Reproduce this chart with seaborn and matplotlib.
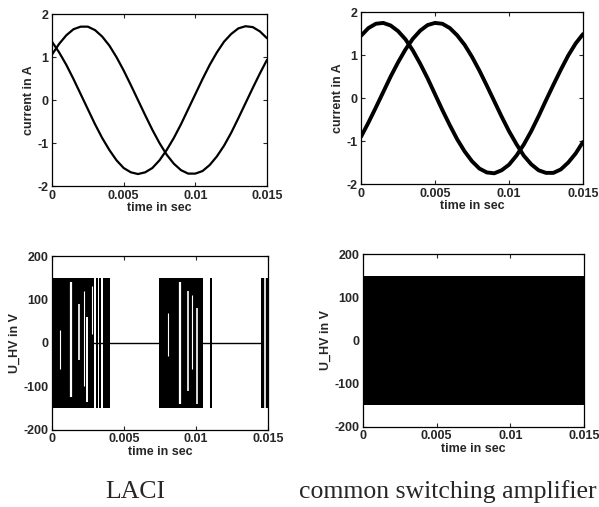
import numpy as np
import matplotlib
matplotlib.use("Agg")
import matplotlib.pyplot as plt
import seaborn as sns

# sampling instants of the current traces (ms)
t_ms = [0.0, 0.5, 1.0, 1.5, 2.0, 2.5, 3.0, 3.5, 4.0, 4.5, 5.0, 5.5, 6.0, 6.5, 7.0, 7.5,
        8.0, 8.5, 9.0, 9.5, 10.0, 10.5, 11.0, 11.5, 12.0, 12.5, 13.0, 13.5, 14.0, 14.5, 15.0]

# LACI phase currents (A)
laci_i1 = [1.06, 1.31, 1.51, 1.65, 1.71, 1.71, 1.63, 1.48, 1.27, 1.00, 0.69, 0.35, 0.00,
           -0.35, -0.69, -1.00, -1.27, -1.48, -1.63, -1.71, -1.71, -1.65, -1.51, -1.31,
           -1.06, -0.76, -0.42, -0.07, 0.28, 0.62, 0.94]
laci_i2 = [1.36, 1.11, 0.82, 0.49, 0.14, -0.21, -0.56, -0.88, -1.16, -1.40, -1.58, -1.68,
           -1.72, -1.68, -1.58, -1.40, -1.16, -0.88, -0.56, -0.21, 0.14, 0.49, 0.82, 1.11,
           1.36, 1.54, 1.67, 1.72, 1.70, 1.60, 1.44]

# switching amplifier phase currents (A)
amp_i1 = [1.45, 1.63, 1.73, 1.75, 1.69, 1.56, 1.37, 1.11, 0.80, 0.46, 0.09, -0.28, -0.63,
          -0.96, -1.24, -1.47, -1.64, -1.73, -1.75, -1.68, -1.55, -1.34, -1.08, -0.77,
          -0.42, -0.05, 0.31, 0.66, 0.99, 1.27, 1.49]
amp_i2 = [-0.90, -0.57, -0.22, 0.14, 0.50, 0.83, 1.13, 1.38, 1.57, 1.70, 1.75, 1.73, 1.63,
          1.46, 1.24, 0.96, 0.64, 0.29, -0.07, -0.43, -0.77, -1.07, -1.34, -1.54, -1.68,
          -1.74, -1.74, -1.66, -1.50, -1.29, -1.02]

# dc link voltage (V)
u_dc = 150

# LACI: intervals where the bridge is switching (ms)
laci_burst_start = [0.0, 3.03, 3.29, 3.52, 7.43, 10.97, 14.52]
laci_burst_end = [2.90, 3.17, 3.38, 4.03, 10.50, 11.10, 15.0]

# gaps inside the switching bursts (ms, V from, V to)
laci_gap_t = [0.55, 1.35, 1.90, 2.20, 2.45, 2.75, 8.05, 8.87, 9.45, 9.70, 10.05, 14.80]
laci_gap_lo = [-60, -125, -40, -100, -135, 20, -30, -140, -110, -60, -140, -150]
laci_gap_hi = [30, 140, 90, 120, 60, 130, 70, 140, 120, 110, 80, 150]
laci_gap_w = [0.8, 1.6, 1.2, 0.8, 1.4, 0.8, 0.8, 1.6, 1.2, 0.8, 1.2, 1.2]

# common amplifier switches over the whole window (ms)
amp_burst_start = [0.0]
amp_burst_end = [15.0]

sns.set_style("ticks")
plt.rcParams['font.family'] = ['Liberation Sans', 'DejaVu Sans']
plt.rcParams['font.weight'] = 'bold'
plt.rcParams['axes.labelweight'] = 'bold'
plt.rcParams['axes.linewidth'] = 0.9

fig = plt.figure(figsize=(5.99, 5.07), dpi=100)
ax_tl = fig.add_axes([0.0868, 0.633, 0.359, 0.339])
ax_tr = fig.add_axes([0.6027, 0.637, 0.3706, 0.339])
ax_bl = fig.add_axes([0.0868, 0.152, 0.3606, 0.343])
ax_br = fig.add_axes([0.606, 0.158, 0.369, 0.341])

t_s = np.array(t_ms) / 1000

for ax, i1, i2, lw in [(ax_tl, laci_i1, laci_i2, 1.6), (ax_tr, amp_i1, amp_i2, 2.8)]:
    sns.lineplot(x=t_s, y=i1, ax=ax, color='black', lw=lw)
    sns.lineplot(x=t_s, y=i2, ax=ax, color='black', lw=lw)
    ax.set_ylim(-2, 2)
    ax.set_yticks([-2, -1, 0, 1, 2])
    ax.set_yticklabels(['-2', '-1', '0', '1', '2'])
    ax.set_ylabel('current in A', labelpad=2)


def draw_bursts(ax, starts, ends):
    for s, e in zip(starts, ends):
        ax.fill_between([s / 1000, e / 1000], -u_dc, u_dc, color='black', lw=0)


ax_bl.axhline(0, color='black', lw=1.0)
draw_bursts(ax_bl, laci_burst_start, laci_burst_end)
for t, lo, hi, w in zip(laci_gap_t, laci_gap_lo, laci_gap_hi, laci_gap_w):
    ax_bl.vlines(t / 1000, lo, hi, color='white', lw=w)
draw_bursts(ax_br, amp_burst_start, amp_burst_end)

for ax in [ax_bl, ax_br]:
    ax.set_ylim(-200, 200)
    ax.set_yticks([-200, -100, 0, 100, 200])
    ax.set_yticklabels(['-200', '-100', '0', '100', '200'])
    ax.set_ylabel('U_HV in V', labelpad=2)

for ax in [ax_tl, ax_tr, ax_bl, ax_br]:
    ax.set_xlim(0, 0.015)
    ax.set_xticks([0, 0.005, 0.01, 0.015])
    ax.set_xticklabels(['0', '0.005', '0.01', '0.015'])
    ax.set_xlabel('time in sec', labelpad=0.5)
    ax.tick_params(direction='in', top=True, right=True, length=3, width=0.8,
                   labelsize=9, pad=2.5)
    ax.xaxis.label.set_size(9)
    ax.yaxis.label.set_size(9)
    for sp in ax.spines.values():
        sp.set_visible(True)
        sp.set_color('black')

fig.text(135 / 599, 1 - 492 / 507, 'LACI', family='Liberation Serif', weight='normal',
         fontsize=18.5, ha='center', va='center')
fig.text(448 / 599, 1 - 492 / 507, 'common switching amplifier', family='Liberation Serif',
         weight='normal', fontsize=18.5, ha='center', va='center')

fig.savefig('out.png', dpi=100)
